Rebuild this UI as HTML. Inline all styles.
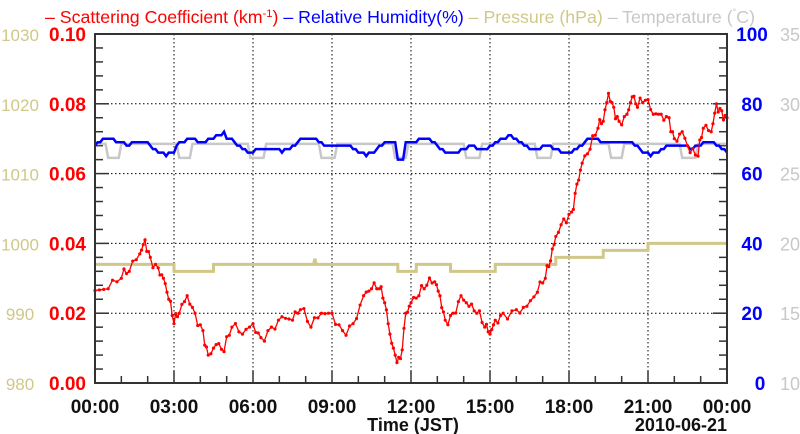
<!DOCTYPE html>
<html><head><meta charset="utf-8"><style>
body{margin:0;background:#fff}
svg{display:block;font-family:"Liberation Sans",sans-serif;font-weight:bold}
</style></head><body>
<svg id="s" width="800" height="434" xmlns="http://www.w3.org/2000/svg"></svg>
<script>
const L=95,R=727,T=34,B=383,W=R-L,H=B-T;
const X=h=>L+h/24*W, Ys=v=>B-v/0.1*H, Yr=v=>B-v/100*H, Yp=v=>B-(v-980)/50*H;
let o='';
for(let h=3;h<24;h+=3)o+=`<line x1="${X(h)}" y1="${T}" x2="${X(h)}" y2="${B}" stroke="#000" stroke-width="1" stroke-dasharray="1.5,2.5"/>`;
for(let v=0.02;v<0.099;v+=0.02)o+=`<line x1="${L}" y1="${Ys(v)}" x2="${R}" y2="${Ys(v)}" stroke="#000" stroke-width="1" stroke-dasharray="1.5,2.5"/>`;
for(let h=1;h<24;h++){let l=h%3?7:12;o+=`<line x1="${X(h)}" y1="${B}" x2="${X(h)}" y2="${B-l}" stroke="#333" stroke-width="1.5"/>`;}
for(let i=1;i<25;i++){let y=B-i*H/25,l=i%5?8:14;o+=`<line x1="${L}" y1="${y}" x2="${L+l}" y2="${y}" stroke="#333" stroke-width="1.5"/><line x1="${R}" y1="${y}" x2="${R-l}" y2="${y}" stroke="#333" stroke-width="1.5"/>`;}
const P=[[0,997],[3,997],[3,996],[4.5,996],[4.5,997],[8.3,997],[8.35,997.8],[8.4,997],[11.5,997],[11.5,996],[12.2,996],[12.2,997],[13.5,997],[13.5,996],[15.2,996],[15.2,997],[17.5,997],[17.5,998],[19.3,998],[19.3,999],[21,999],[21,1000],[24,1000]];
o+=`<polyline fill="none" stroke="#d0c888" stroke-width="3" points="${P.map(p=>X(p[0])+','+Yp(p[1])).join(' ')}"/>`;
let tp=[],rp=[];
for(let i=0;i<=240;i++){let h=i/10;
 let base=68.5; let dip=(Math.sin(h*2.3)>0.8)?-4:0; tp.push(X(h)+','+Yr(base+dip));
 let r=68+1.6*Math.sin(h*1.7)+1.0*Math.sin(h*4.1); if(h>3&&h<5)r+=1.2; if(Math.abs(h-11.6)<0.15)r-=5; if(h>22.5)r-=1.2;
 r=Math.round(r); rp.push(X(h)+','+Yr(r));}
o+=`<polyline fill="none" stroke="#c8c8c8" stroke-width="2.5" points="${tp.join(' ')}"/>`;
o+=`<polyline fill="none" stroke="#0000ff" stroke-width="2.5" points="${rp.join(' ')}"/>`;
const S=[[0,.0265],[.5,.027],[1,.03],[1.3,.032],[1.7,.037],[1.9,.041],[2.1,.036],[2.4,.033],[2.6,.03],[2.8,.024],[3,.017],[3.2,.02],[3.5,.025],[3.8,.02],[4.1,.015],[4.3,.008],[4.6,.011],[4.9,.009],[5.2,.016],[5.6,.014],[6,.017],[6.3,.013],[6.7,.016],[7.1,.019],[7.5,.018],[7.8,.021],[8.2,.016],[8.6,.02],[9,.02],[9.4,.015],[9.8,.017],[10.2,.025],[10.5,.027],[10.8,.027],[11,.023],[11.2,.014],[11.4,.008],[11.6,.007],[11.8,.02],[12,.023],[12.3,.025],[12.6,.028],[12.9,.029],[13.1,.025],[13.3,.018],[13.6,.02],[13.9,.025],[14.2,.022],[14.5,.02],[14.8,.016],[15,.014],[15.2,.018],[15.5,.02],[16,.021],[16.4,.022],[16.8,.026],[17.1,.03],[17.3,.035],[17.5,.042],[17.8,.047],[18.1,.049],[18.3,.057],[18.5,.063],[18.8,.067],[19.1,.073],[19.3,.075],[19.5,.083],[19.7,.079],[19.9,.075],[20.2,.077],[20.4,.082],[20.6,.079],[20.9,.081],[21.2,.077],[21.5,.077],[21.8,.076],[22,.07],[22.3,.072],[22.6,.066],[22.9,.065],[23.1,.073],[23.4,.072],[23.6,.08],[23.8,.078],[24,.076]];
let sp=[];for(let i=0;i<S.length-1;i++){let a=S[i],b=S[i+1];for(let k=0;k<3;k++){let t=k/3,j=(k==1?(Math.sin(i*7.1)*0.002):0);sp.push([a[0]+(b[0]-a[0])*t,a[1]+(b[1]-a[1])*t+j]);}}sp.push(S[S.length-1]);
o+=`<polyline fill="none" stroke="#ff0000" stroke-width="1.3" points="${sp.map(p=>X(p[0])+','+Ys(p[1])).join(' ')}"/>`;
sp.forEach(p=>o+=`<circle cx="${X(p[0])}" cy="${Ys(p[1])}" r="1.6" fill="#ff0000"/>`);
o+=`<rect x="${L}" y="${T}" width="${W}" height="${H}" fill="none" stroke="#333" stroke-width="2"/>`;
for(let i=0;i<=5;i++){let y=B-i*H/5+7;
 o+=`<text x="86" y="${y}" text-anchor="end" font-size="19" fill="#ff0000">${(i*0.02).toFixed(2)}</text>`;
 o+=`<text x="20" y="${y}" text-anchor="middle" font-size="17" font-weight="normal" fill="#d0c888">${980+i*10}</text>`;
 o+=`<text x="${i?752:760}" y="${y}" text-anchor="middle" font-size="19" fill="#0000ff">${i*20}</text>`;
 o+=`<text x="790" y="${y}" text-anchor="middle" font-size="18" font-weight="normal" fill="#c8c8c8">${10+i*5}</text>`;}
for(let h=0;h<=24;h+=3)o+=`<text x="${X(h)}" y="413" text-anchor="middle" font-size="19" fill="#111">${String(h%24).padStart(2,'0')}:00</text>`;
o+=`<text x="413" y="431" text-anchor="middle" font-size="18" fill="#111">Time (JST)</text>`;
o+=`<text x="727" y="431" text-anchor="end" font-size="18" fill="#111">2010-06-21</text>`;
o+=`<text x="400" y="23" text-anchor="middle" font-size="17.5" font-weight="normal" textLength="710" lengthAdjust="spacingAndGlyphs"><tspan fill="#ff0000">– Scattering Coefficient (km<tspan dy="-6" font-size="11">-1</tspan><tspan dy="6">)</tspan></tspan><tspan fill="#0000ff"> – Relative Humidity(%)</tspan><tspan fill="#d0c888"> – Pressure (hPa)</tspan><tspan fill="#c8c8c8"> – Temperature (<tspan dy="-8" font-size="9">°</tspan><tspan dy="8">C)</tspan></tspan></text>`;
document.getElementById('s').innerHTML=o;
</script>
</body></html>
